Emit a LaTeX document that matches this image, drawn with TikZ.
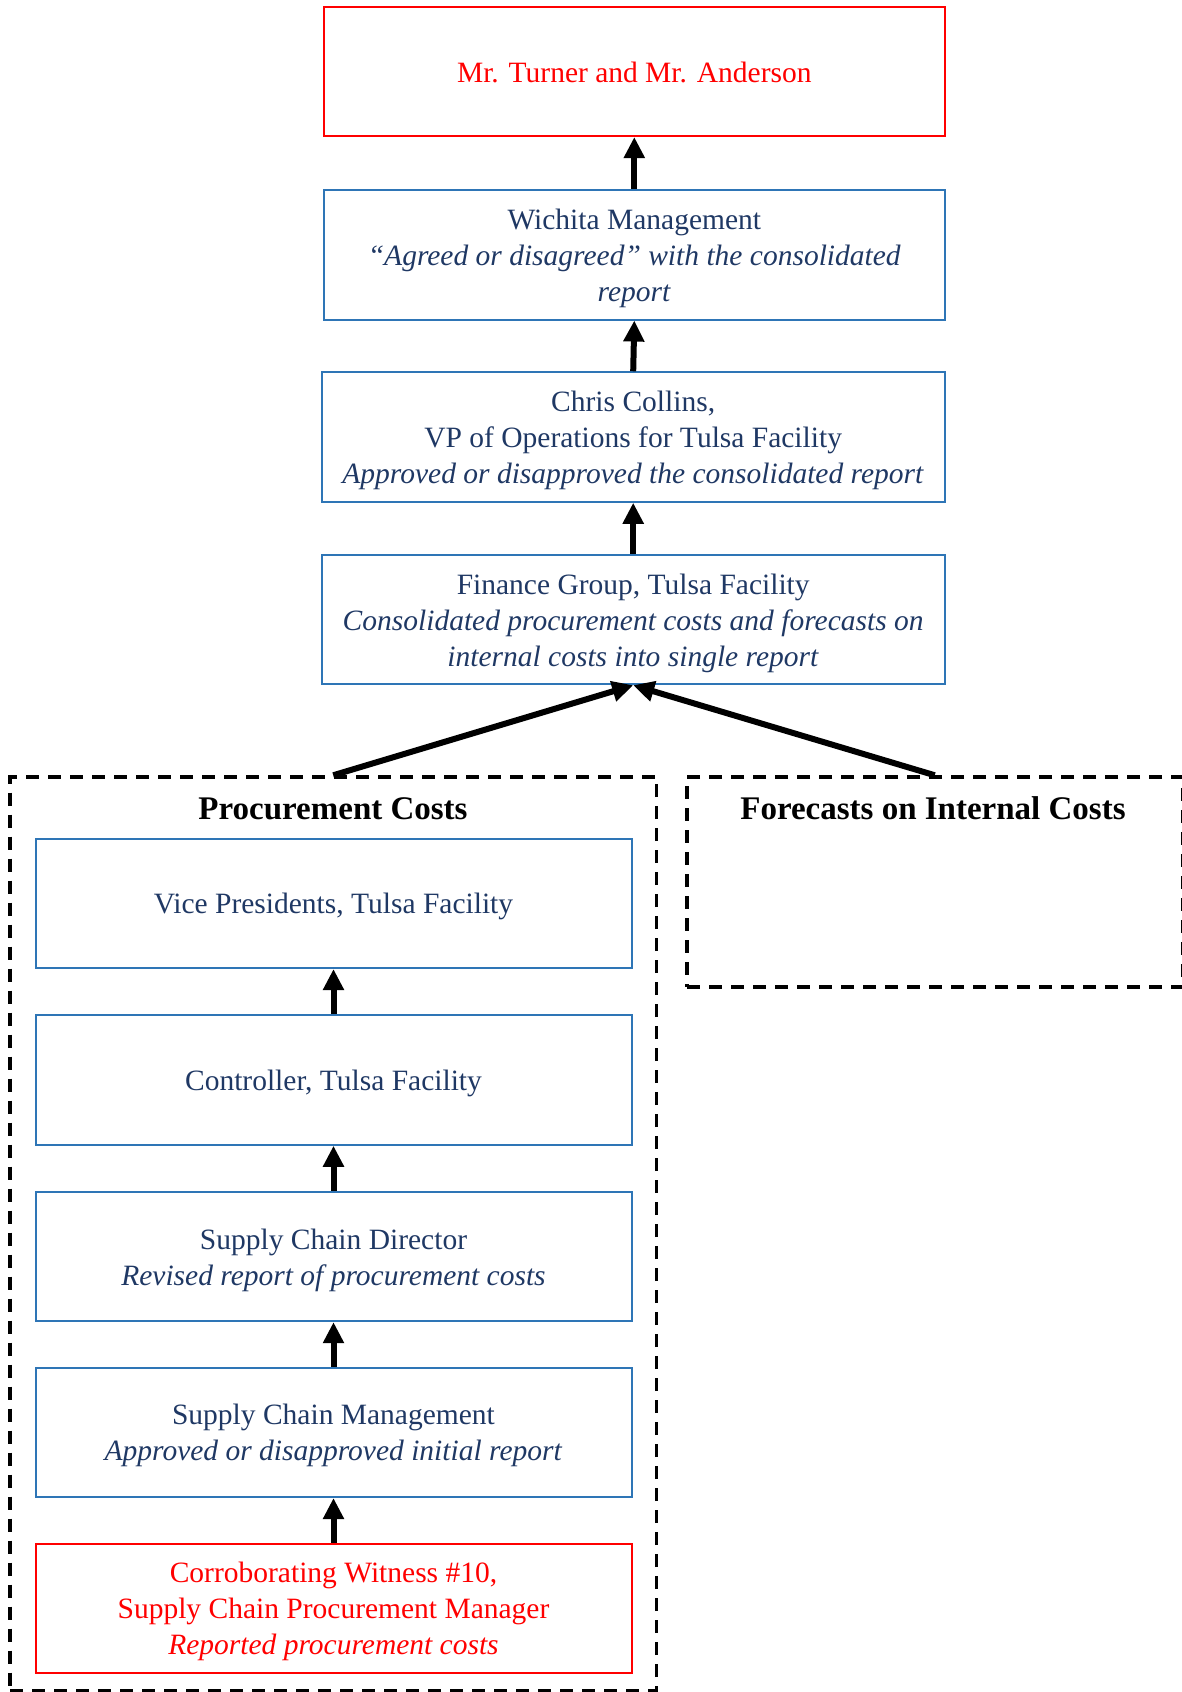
\documentclass[tikz,border=0pt]{standalone}
\usepackage{fontspec}
\setmainfont{Liberation Serif}
\usetikzlibrary{arrows.meta}
\definecolor{navy}{RGB}{31,56,100}
\definecolor{boxblue}{RGB}{46,117,182}
\definecolor{myred}{RGB}{255,0,0}
\tikzset{
  bluebox/.style={draw=boxblue,line width=2pt,inner sep=0pt,minimum height=129.5pt},
  redbox/.style={bluebox,draw=myred},
  widebox/.style={minimum width=621pt},
  narrowbox/.style={minimum width=596pt},
  boxtext/.style={inner sep=0pt,text=navy,align=center,font=\fontsize{29.5}{36}\selectfont},
  redtext/.style={boxtext,text=myred},
  uparrow/.style={line width=6pt,-{Triangle[width=20pt,length=21pt]}},
  groupbox/.style={draw=black,line width=3.5pt,dash pattern=on 13pt off 9pt,inner sep=0pt},
  grouptitle/.style={font=\fontsize{33}{36}\selectfont\bfseries,text=black}
}
\begin{document}
\begin{tikzpicture}[x=1pt,y=-1pt]
\useasboundingbox (0,0) rectangle (1181,1692);

% top column
\node[redbox,widebox] (top) at (634.3,71.3) {};
\node[redtext] (topt) at ([yshift=-1.5pt]top.center) {Mr. Turner and Mr. Anderson};
\node[bluebox,widebox] (wich) at (634.3,254.8) {};
\node[boxtext] (wicht) at ([yshift=-3.5pt]wich.center) {Wichita  Management\\\textit{“Agreed or disagreed” with the consolidated}\\\textit{report}};
\node[bluebox,minimum width=623pt] (chris) at (633.2,437) {};
\node[boxtext] (christ) at ([yshift=-3.5pt]chris.center) {Chris Collins,\\VP of Operations  for Tulsa Facility\\\textit{Approved or disapproved the consolidated report}};
\node[bluebox,minimum width=623pt] (fin) at (633.2,619.5) {};
\node[boxtext] (fint) at ([yshift=-3.5pt]fin.center) {Finance  Group, Tulsa Facility\\\textit{Consolidated procurement costs and forecasts on}\\\textit{internal costs into single report}};

% groups
\node[groupbox,minimum width=646.5pt,minimum height=913.5pt] (proc) at (333.25,1233.75) {};
\node[groupbox,minimum width=495.5pt,minimum height=210pt] (fore) at (934.75,882) {};
\node[grouptitle] (ptitle) at (333,808.5) {Procurement Costs};
\node[grouptitle] (ftitle) at (933,808.5) {Forecasts on Internal Costs};

% lower column
\node[bluebox,narrowbox] (vp) at (333.5,903.3) {};
\node[boxtext] (vpt) at ([yshift=-3.5pt]vp.center) {Vice Presidents, Tulsa Facility};
\node[bluebox,narrowbox] (ctrl) at (333.5,1080) {};
\node[boxtext] (ctrlt) at ([yshift=-3.5pt]ctrl.center) {Controller,  Tulsa Facility};
\node[bluebox,narrowbox] (scd) at (333.5,1256.4) {};
\node[boxtext] (scdt) at ([yshift=-3.5pt]scd.center) {Supply  Chain  Director\\\textit{Revised report of procurement costs}};
\node[bluebox,narrowbox] (scm) at (333.5,1432.3) {};
\node[boxtext] (scmt) at ([yshift=-3.5pt]scm.center) {Supply  Chain  Management\\\textit{Approved or disapproved initial report}};
\node[redbox,narrowbox] (cw) at (333.5,1608.3) {};
\node[redtext] (cwt) at ([yshift=-3.5pt]cw.center) {Corroborating  Witness \#10,\\Supply  Chain  Procurement  Manager\\\textit{Reported procurement costs}};

% connectors
\draw[uparrow] (wich.north) -- (top.south);
\draw[uparrow] (chris.north) -- (wich.south);
\draw[uparrow] (fin.north) -- (chris.south);
\draw[uparrow] (proc.north) -- (fin.south);
\draw[uparrow] (fore.north) -- (fin.south);
\draw[uparrow] (ctrl.north) -- (vp.south);
\draw[uparrow] (scd.north) -- (ctrl.south);
\draw[uparrow] (scm.north) -- (scd.south);
\draw[uparrow] (cw.north) -- (scm.south);
\end{tikzpicture}
\end{document}
